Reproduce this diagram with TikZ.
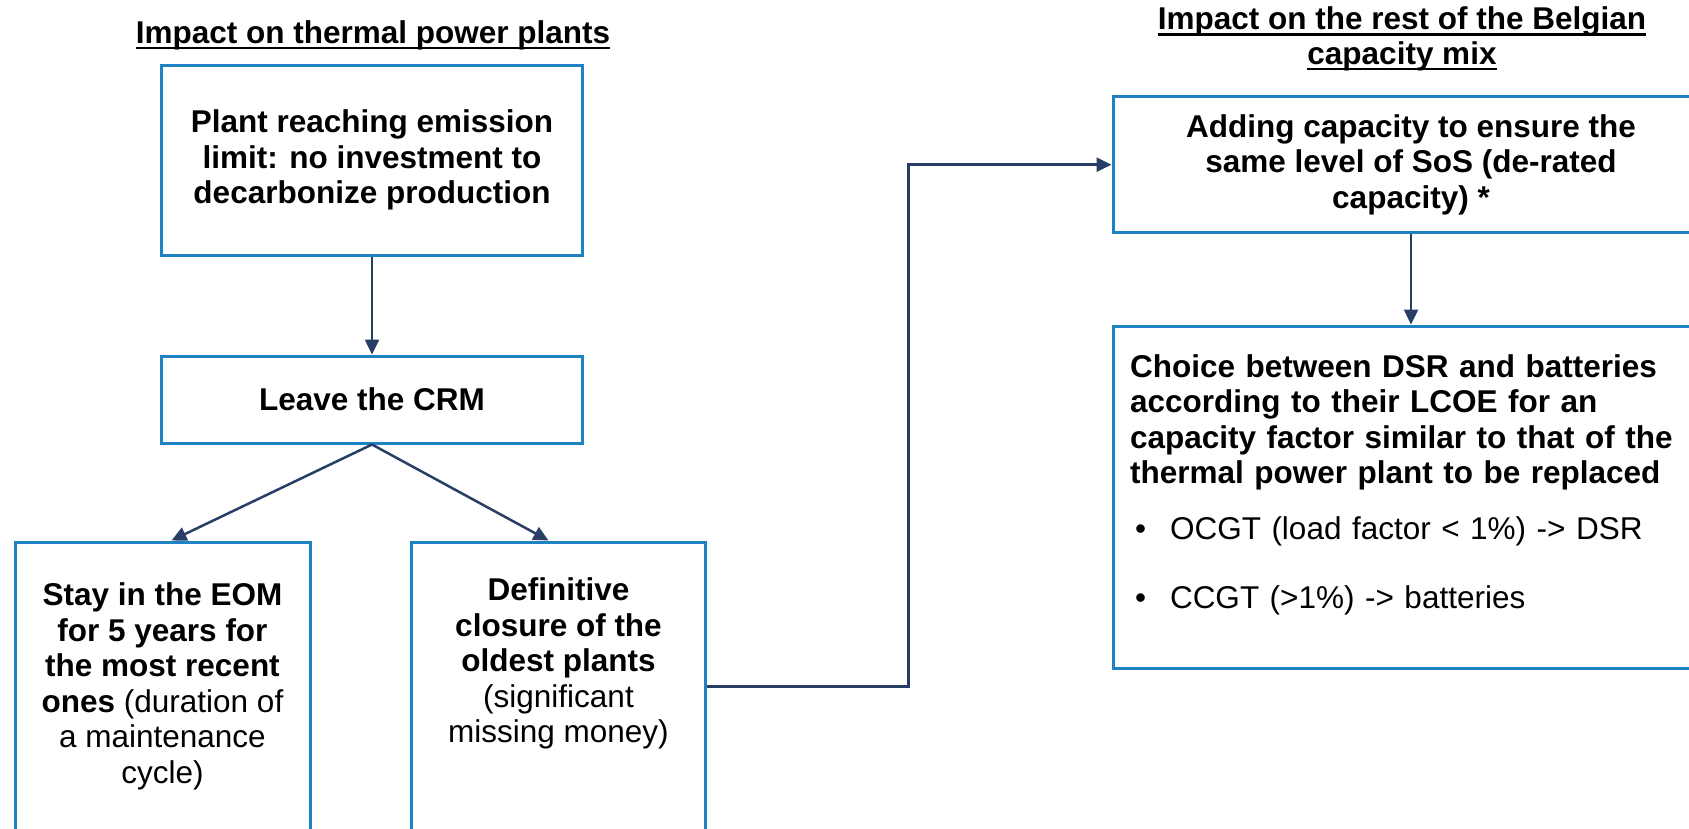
\documentclass[tikz,border=0pt]{standalone}
\usepackage{fontspec}
\setmainfont{Liberation Sans}
\usetikzlibrary{arrows.meta}

\definecolor{boxblue}{RGB}{30,130,195}
\definecolor{linknavy}{RGB}{40,62,102}
\newcommand{\ulhead}[1]{\setbox0=\hbox{#1}\rlap{\rule[-6pt]{\wd0}{2.5pt}}\box0}
\newcommand{\bulitem}{\hspace*{5pt}\makebox[35pt][l]{\textbullet}}
\newcommand{\padbelow}[1]{\rule[-#1]{0pt}{#1}}

\begin{document}
\begin{tikzpicture}[x=1pt, y=-1pt,
    block/.style={rectangle, draw=boxblue, line width=3pt, fill=white,
        font=\fontsize{31.5pt}{35.5pt}\selectfont\bfseries, align=center, inner sep=6pt},
    heading/.style={font=\fontsize{31.5pt}{34.5pt}\selectfont\bfseries,
        align=center, inner sep=0pt},
    link/.style={draw=linknavy, line width=2.5pt, -{Triangle[length=15pt,width=14pt]}}
]
    \useasboundingbox (0,0) rectangle (1689,828);
    \clip (0,0) rectangle (1689,828);

    \node[heading] (lefthead) at (373,35) {\ulhead{Impact on thermal power plants}};
    \node[heading] (righthead) at (1402,39) {\ulhead{Impact on the rest of the Belgian}\\\ulhead{capacity mix}};

    \node[block, minimum width=421, minimum height=190] (limit) at (372,160)
        {Plant reaching emission\\limit: no investment to\\decarbonize production};
    \node[block, minimum width=421, minimum height=87] (leave) at (372,399.5) {Leave the CRM};
    \node[block, minimum width=295, minimum height=289] (stay) at (162.5,686.5)
        {Stay in the EOM\\for 5 years for\\the most recent\\ones {\mdseries(duration of}\\{\mdseries a maintenance}\\{\mdseries cycle)}};
    \node[block, minimum width=294, minimum height=289] (closure) at (558.5,686.5)
        {Definitive\\closure of the\\oldest plants\\{\mdseries(significant}\\{\mdseries missing money)\padbelow{52pt}}};

    \node[block, minimum width=596, minimum height=136] (adding) at (1411,164.7)
        {Adding capacity to ensure the\\same level of SoS (de-rated\\capacity) *};
    \node[block, minimum width=596, minimum height=342, text width=562, align=left] (choice) at (1411,497)
        {Choice between DSR and batteries\\according to their LCOE for an\\capacity factor similar to that of the\\thermal power plant to be replaced\\[20pt]
         {\mdseries\bulitem OCGT (load factor < 1\%) -> DSR}\\[34pt]
         {\mdseries\bulitem CCGT (>1\%) -> batteries\padbelow{31pt}}};

    \draw[link] (limit) -- (leave);
    \draw[link] (leave.south) -- ([xshift=9pt]stay.north);
    \draw[link] (leave.south) -- ([xshift=-10pt]closure.north);
    \draw[link] (closure.east) -| ([xshift=-203pt]adding.west) -- (adding.west);
    \draw[link] (adding) -- (choice);
\end{tikzpicture}
\end{document}
